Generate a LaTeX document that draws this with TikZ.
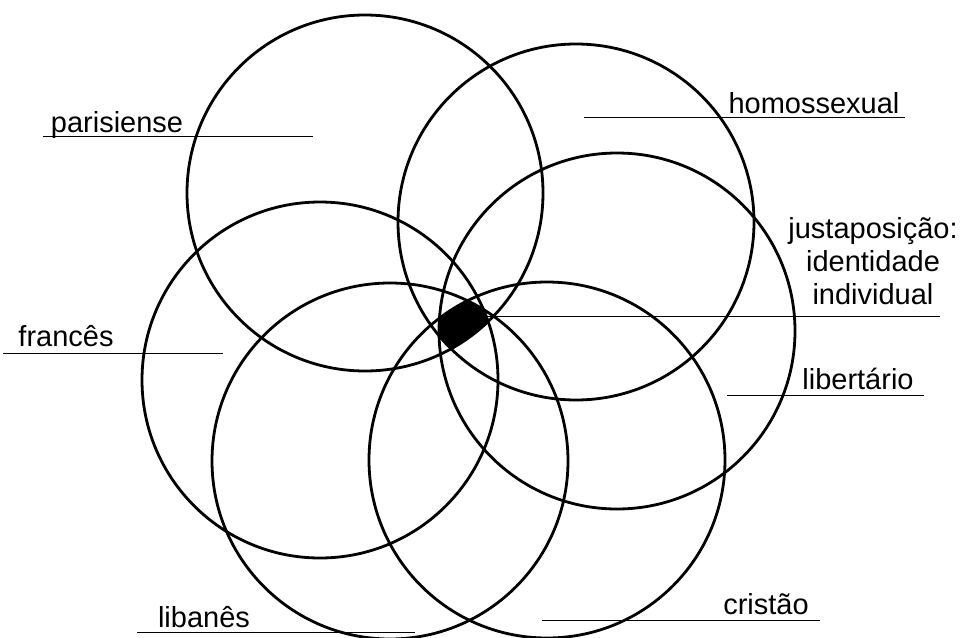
\documentclass[tikz,border=0pt]{standalone}
\usepackage{fontspec}
\setmainfont{Liberation Sans}
\begin{document}
\begin{tikzpicture}[x=1pt,y=-1pt,
  ring/.style={draw=black,line width=2.8pt},
  leader/.style={draw=black,line width=0.8pt},
  lbl/.style={font=\fontsize{29}{33}\selectfont,inner sep=0pt,anchor=base}]
\useasboundingbox (0,0) rectangle (960,637);
% circle centres
\coordinate (c1) at (365,193);
\coordinate (c2) at (576,222);
\coordinate (c3) at (617,331);
\coordinate (c4) at (320,380);
\coordinate (c5) at (390,461);
\coordinate (c6) at (547,460);
% intersection of all circles
\begin{scope}
  \clip (c1) circle[radius=178pt];
  \clip (c2) circle[radius=178pt];
  \clip (c3) circle[radius=178pt];
  \clip (c4) circle[radius=178pt];
  \clip (c5) circle[radius=178pt];
  \fill[black] (c6) circle[radius=178pt];
\end{scope}
% circles
\foreach \c in {c1,c2,c3,c4,c5,c6} \path[ring] (\c) circle[radius=178pt];
% leader lines
\coordinate (pa1) at (43,136);  \coordinate (pa2) at (313,136);
\coordinate (ho1) at (584,117); \coordinate (ho2) at (905,117);
\coordinate (ju1) at (485,316); \coordinate (ju2) at (940,316);
\coordinate (fr1) at (3,353);   \coordinate (fr2) at (223,353);
\coordinate (li1) at (137,632); \coordinate (li2) at (415,632);
\coordinate (lb1) at (727,395); \coordinate (lb2) at (924,395);
\coordinate (cr1) at (542,620); \coordinate (cr2) at (820,620);
\draw[leader] (pa1) -- (pa2);
\draw[leader] (ho1) -- (ho2);
\draw[leader] (ju1) -- (ju2);
\draw[leader] (fr1) -- (fr2);
\draw[leader] (li1) -- (li2);
\draw[leader] (lb1) -- (lb2);
\draw[leader] (cr1) -- (cr2);
% labels
\node[lbl] (tpa) at (117,132) {parisiense};
\node[lbl] (tho) at (814,113) {homossexual};
\node[lbl,align=center] (tju) at (873,304) {justaposição:\\identidade\\individual};
\node[lbl] (tfr) at (66,346) {francês};
\node[lbl] (tli) at (204,627) {libanês};
\node[lbl] (tlb) at (858,389) {libertário};
\node[lbl] (tcr) at (766,614) {cristão};
\end{tikzpicture}
\end{document}
